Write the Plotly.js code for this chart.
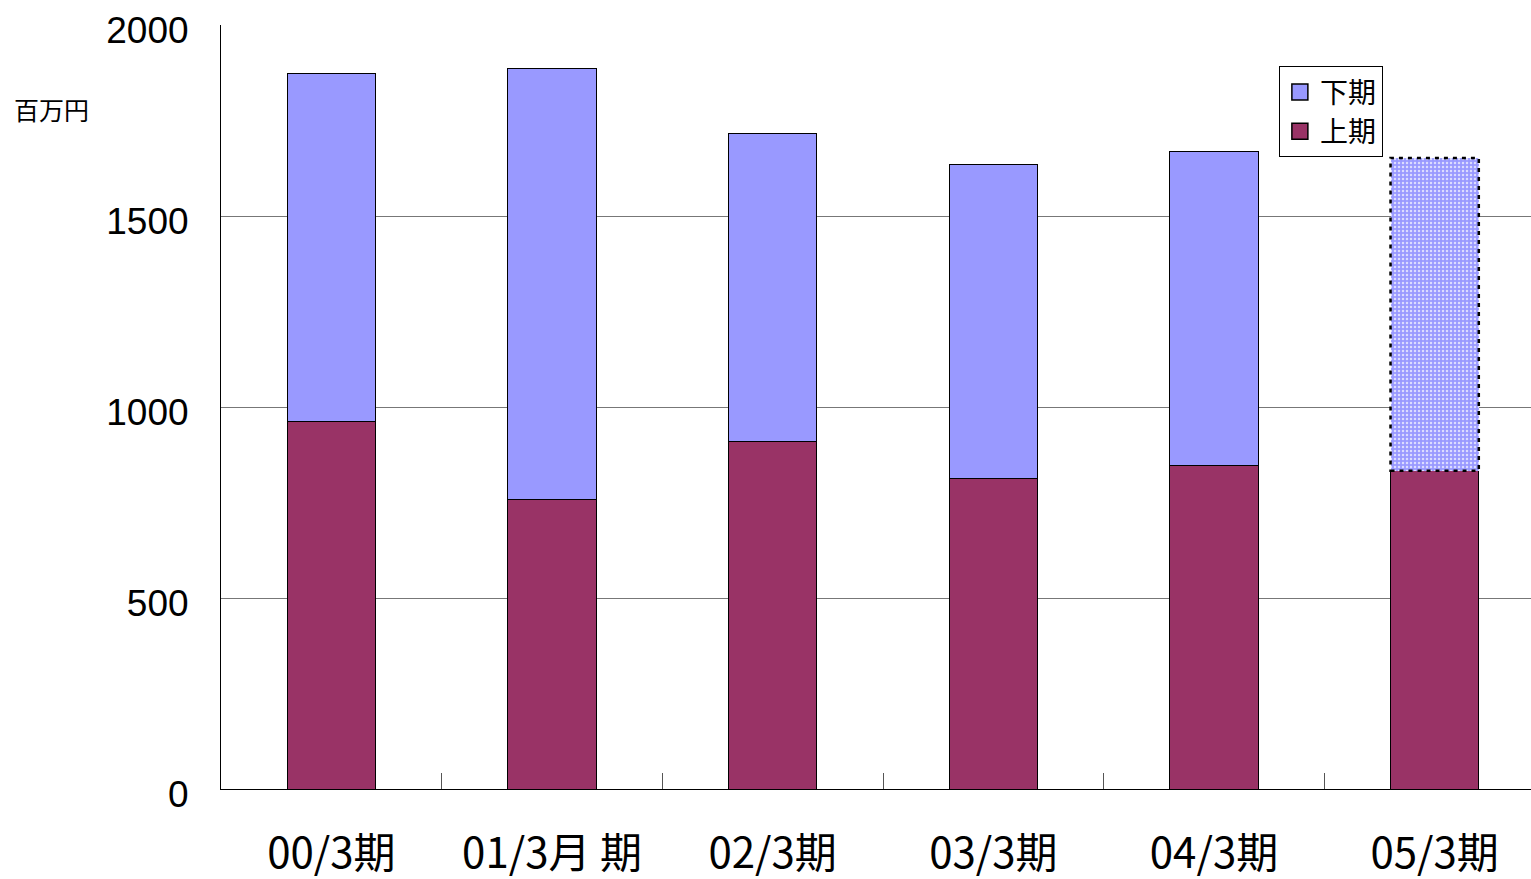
<!DOCTYPE html>
<html>
<head>
<meta charset="utf-8">
<script src="https://cdn.plot.ly/plotly-3.0.1.min.js"></script>
<style>
  html, body { margin: 0; padding: 0; overflow: hidden; background: #fff; }
  #chart { width: 1560px; height: 879px; }
</style>
</head>
<body>
<div id="chart"></div>
<script>
// Fiscal periods (March year-end)
const periods = ['00/3期', '01/3月 期', '02/3期', '03/3期', '04/3期', '05/3期'];
// First half (上期), million yen
const firstHalf = [963, 757, 911, 812, 846, 833];
// Second half (下期), million yen; the last one is a forecast
const secondHalf = [909, 1128, 806, 822, 822, 819];
const forecastIndex = 5;

const colorFirst = '#993366';
const colorSecond = '#9999FF';

const upperPattern = periods.map((_, i) => (i === forecastIndex ? '.' : ''));

const traces = [
  {
    type: 'bar',
    name: '上期',
    x: periods,
    y: firstHalf,
    showlegend: false,
    marker: { color: colorFirst, line: { color: '#000', width: 1 } },
    hoverinfo: 'x+y+name'
  },
  {
    type: 'bar',
    name: '下期',
    x: periods,
    y: secondHalf,
    showlegend: false,
    marker: {
      color: colorSecond,
      line: { color: periods.map((_, i) => (i === forecastIndex ? 'rgba(0,0,0,0)' : '#000')), width: 1 },
      pattern: { shape: upperPattern, fgcolor: '#DCDCFF', bgcolor: colorSecond, size: 4, solidity: 0.3, fillmode: 'replace' }
    },
    hoverinfo: 'x+y+name'
  },
  // Legend entries with square swatches
  {
    type: 'scatter', mode: 'markers', name: '下期', x: [null], y: [null],
    marker: { symbol: 'square', size: 16, color: colorSecond, line: { color: '#000', width: 1.5 } }
  },
  {
    type: 'scatter', mode: 'markers', name: '上期', x: [null], y: [null],
    marker: { symbol: 'square', size: 16, color: colorFirst, line: { color: '#000', width: 1.5 } }
  }
];

// Dotted outline around the forecast segment, placed from the data values
const half = 0.2;
const fLow = firstHalf[forecastIndex];
const fHigh = firstHalf[forecastIndex] + secondHalf[forecastIndex];
const shapes = [{
  type: 'rect', xref: 'x', yref: 'y',
  x0: forecastIndex - half, x1: forecastIndex + half,
  y0: fLow, y1: fHigh,
  line: { color: '#000', width: 2.5, dash: '4px,5px' },
  fillcolor: 'rgba(0,0,0,0)'
}];

const layout = {
  width: 1560,
  height: 879,
  margin: { l: 221, r: 15, t: 25, b: 90 },
  paper_bgcolor: '#fff',
  plot_bgcolor: '#fff',
  barmode: 'stack',
  bargap: 0.6,
  showlegend: true,
  legend: {
    x: 0.799, y: 0.946, xanchor: 'left', yanchor: 'top',
    traceorder: 'normal',
    bgcolor: '#fff', bordercolor: '#000', borderwidth: 1,
    font: { family: 'Noto Sans CJK JP', size: 28, color: '#000' },
    itemwidth: 30,
    tracegroupgap: 0
  },
  xaxis: {
    type: 'category',
    showline: true, linecolor: '#000', linewidth: 1,
    ticks: 'inside', tickson: 'boundaries', ticklen: 16, tickcolor: '#555',
    tickfont: { family: 'Noto Sans CJK JP', size: 42, color: '#000' },
    ticklabelstandoff: 28,
    showgrid: false,
    zeroline: false
  },
  yaxis: {
    range: [0, 2000],
    dtick: 500,
    showline: true, linecolor: '#000', linewidth: 1,
    ticks: '',
    tickfont: { family: 'Liberation Sans, Arial, sans-serif', size: 37, color: '#000' },
    ticklabelstandoff: 24,
    ticklabelshift: 5,
    showgrid: true, gridcolor: '#777', gridwidth: 1,
    zeroline: false
  },
  shapes: shapes,
  annotations: [{
    text: '百万円', xref: 'paper', yref: 'paper',
    x: -221 / 1324, y: (789 - 109) / 764, xanchor: 'left', yanchor: 'middle',
    xshift: 12,
    showarrow: false,
    font: { family: 'Noto Sans CJK JP', size: 25, color: '#000' }
  }]
};

Plotly.newPlot('chart', traces, layout, { displayModeBar: false, staticPlot: true });
</script>
</body>
</html>
